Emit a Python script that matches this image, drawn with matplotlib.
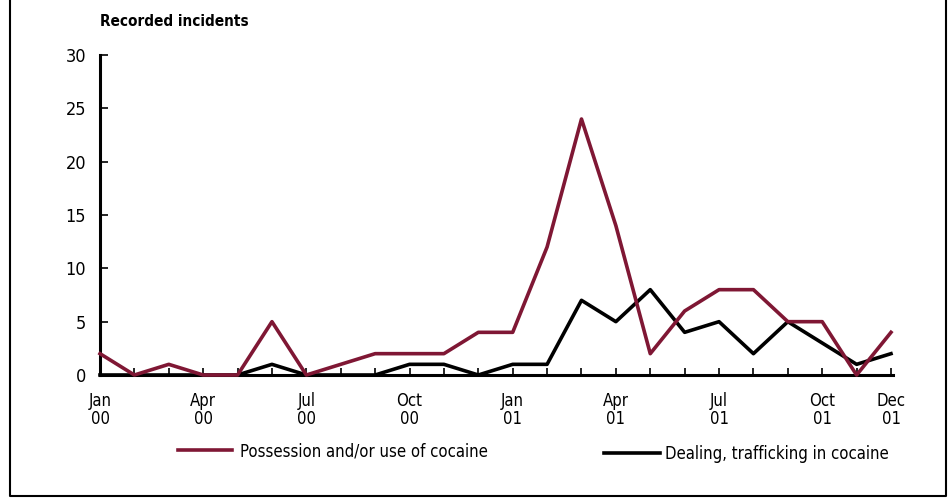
import matplotlib.pyplot as plt
from matplotlib.lines import Line2D

plt.rcParams['font.family'] = ['DejaVu Sans']
plt.rcParams['font.stretch'] = 'condensed'

months = ["Jan 00", "Feb 00", "Mar 00", "Apr 00", "May 00", "Jun 00", "Jul 00", "Aug 00",
          "Sep 00", "Oct 00", "Nov 00", "Dec 00", "Jan 01", "Feb 01", "Mar 01", "Apr 01",
          "May 01", "Jun 01", "Jul 01", "Aug 01", "Sep 01", "Oct 01", "Nov 01", "Dec 01"]
possession = [2, 0, 1, 0, 0, 5, 0, 1, 2, 2, 2, 4, 4, 12, 24, 14, 2, 6, 8, 8, 5, 5, 0, 4]
dealing = [0, 0, 0, 0, 0, 1, 0, 0, 0, 1, 1, 0, 1, 1, 7, 5, 8, 4, 5, 2, 5, 3, 1, 2]
shown_labels = {"Jan 00", "Apr 00", "Jul 00", "Oct 00", "Jan 01", "Apr 01", "Jul 01", "Oct 01", "Dec 01"}

W, H = 949, 498
fig = plt.figure(figsize=(W / 100, H / 100), dpi=100)
ax = fig.add_axes([100 / W, 1 - 375 / H, 791 / W, 320 / H])

x = list(range(len(months)))
l1, = ax.plot(x, possession, color="#7f1734", lw=2.6, clip_on=False, zorder=3)
l2, = ax.plot(x, dealing, color="black", lw=2.6, clip_on=False, zorder=2)

ax.set_xlim(0, 23)
ax.set_ylim(0, 30)
ax.set_yticks(range(0, 31, 5))
ax.set_xticks(x)
ax.set_xticklabels([m.replace(" ", "\n") if m in shown_labels else "" for m in months],
                   linespacing=1.0)
ax.tick_params(axis="x", direction="in", length=5, width=1.2, labelsize=12, pad=12)
ax.tick_params(axis="y", direction="in", length=6, width=1.2, labelsize=13, pad=10)
for s in ["top", "right"]:
    ax.spines[s].set_visible(False)
for s in ["left", "bottom"]:
    ax.spines[s].set_linewidth(2.2)
ax.spines["bottom"].set_bounds(0, 23.05)

fig.text(100 / W, 1 - 22 / H, "Recorded incidents", fontsize=11, fontweight="bold",
         ha="left", va="center")

leg1 = fig.legend([l1], ["Possession and/or use of cocaine"], loc="center left",
                  bbox_to_anchor=(163 / W, 1 - 451 / H), frameon=False, fontsize=12,
                  handlelength=3.25, handletextpad=0.45)
leg2 = fig.legend([l2], ["Dealing, trafficking in cocaine"], loc="center left",
                  bbox_to_anchor=(589 / W, 1 - 454 / H), frameon=False, fontsize=12,
                  handlelength=3.35, handletextpad=0.3)

# outer frame
fig.add_artist(Line2D([10 / W, 10 / W, 946 / W, 946 / W],
                      [1.0, 1 - 496 / H, 1 - 496 / H, 1.0],
                      color="black", lw=1.5, transform=fig.transFigure))

fig.savefig("out.png", dpi=100)
